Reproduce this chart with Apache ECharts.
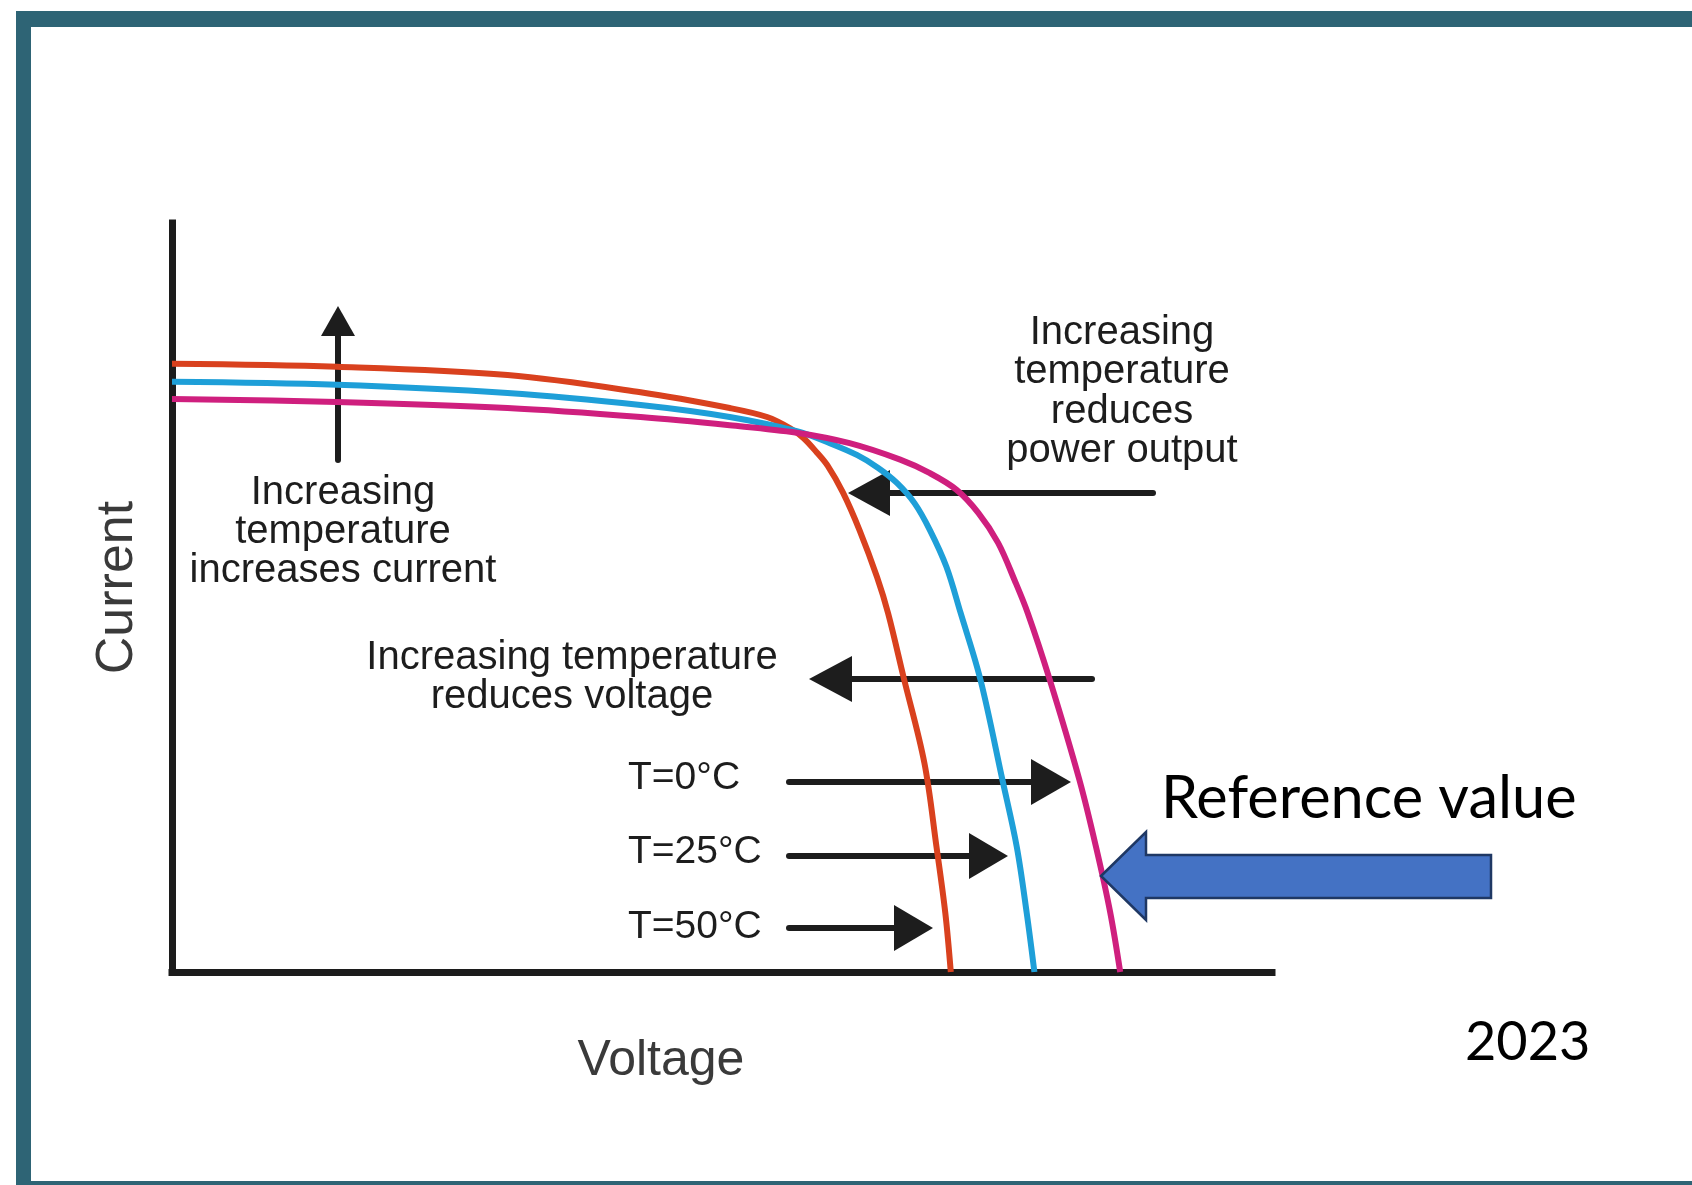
<!DOCTYPE html>
<html>
<head>
<meta charset="utf-8">
<script src="https://cdn.jsdelivr.net/npm/echarts@6/dist/echarts.min.js"></script>
<style>
  html, body { margin: 0; padding: 0; background: #ffffff; }
  #chart { width: 1692px; height: 1185px; }
</style>
</head>
<body>
<div id="chart"></div>
<script>
// ---- Data (relative units: voltage % and current % of axis range) ----
const seriesNames = ['T=50°C', 'T=25°C', 'T=0°C'];

const voltageT50 = [0, 15.0, 30.5, 42.6, 50.7, 54.1, 56.2, 57.4, 58.6, 59.6, 61.0, 62.5, 64.1, 65.1, 66.5, 68.4, 69.5, 70.3, 70.8];
const currentT50 = [81.2, 80.8, 79.7, 77.4, 75.3, 74.1, 72.6, 71.3, 69.4, 67.6, 64.0, 59.0, 52.7, 47.9, 39.4, 27.9, 16.7, 7.9, 0];

const voltageT25 = [0, 15.0, 30.5, 42.6, 50.7, 56.8, 59.8, 62.3, 64.2, 65.9, 67.5, 68.9, 70.4, 71.7, 73.5, 75.5, 76.8, 77.7, 78.4];
const currentT25 = [78.8, 78.4, 77.3, 75.7, 74.1, 72.2, 70.6, 69.0, 67.3, 65.3, 62.6, 59.0, 54.1, 47.9, 39.0, 25.6, 16.7, 7.9, 0];

const voltageT0 = [0, 15.0, 30.5, 42.6, 50.7, 56.8, 61.6, 66.2, 68.9, 71.3, 73.3, 75.1, 76.6, 77.8, 79.8, 82.5, 84.0, 85.3, 86.2];
const currentT0 = [76.5, 76.1, 75.3, 74.1, 73.0, 72.0, 70.6, 68.4, 66.6, 64.4, 61.3, 57.3, 52.3, 47.9, 39.0, 25.6, 16.7, 7.9, 0];

const axisTitles = ['Voltage', 'Current'];

// ---- Build ----
function zip(xs, ys) { return xs.map((x, i) => [x, ys[i]]); }
const curveColors = ['#d9411e', '#1e9fd8', '#cf1f7e'];
const curves = [zip(voltageT50, currentT50), zip(voltageT25, currentT25), zip(voltageT0, currentT0)];

const INK = '#1d1d1d';
const FONT = '"Liberation Sans", Arial, sans-serif';

function arrow(x1, y1, x2, y2, headLen, halfW) {
  const dx = x2 - x1, dy = y2 - y1;
  const len = Math.sqrt(dx * dx + dy * dy);
  const ux = dx / len, uy = dy / len;
  const bx = x2 - ux * headLen, by = y2 - uy * headLen;
  const px = -uy, py = ux;
  return {
    type: 'group',
    children: [
      { type: 'line', shape: { x1: x1, y1: y1, x2: bx + ux * 4, y2: by + uy * 4 },
        style: { stroke: INK, lineWidth: 6, lineCap: 'round' } },
      { type: 'polygon', shape: { points: [[x2, y2], [bx + px * halfW, by + py * halfW], [bx - px * halfW, by - py * halfW]] },
        style: { fill: INK } }
    ]
  };
}

function label(x, y, text, size, align, lineHeight) {
  return {
    type: 'text', x: x, y: y, z: 20,
    style: {
      text: text, fill: INK, fontSize: size, fontFamily: FONT,
      align: align || 'center', verticalAlign: 'middle', lineHeight: lineHeight || size
    }
  };
}

const FRAME = '#2e6475';

const chart = echarts.init(document.getElementById('chart'), null, { renderer: 'canvas' });
const option = {
  animation: false,
  backgroundColor: '#ffffff',
  grid: { left: 172, right: 420, top: 223, bottom: 213 },
  xAxis: {
    type: 'value', min: 0, max: 100,
    name: axisTitles[0], nameLocation: 'middle', nameGap: 64,
    nameTextStyle: { fontSize: 50, color: '#3a3a3a', fontFamily: FONT, padding: [0, 122, 0, 0] },
    axisLine: { show: true, onZero: false, lineStyle: { color: '#1c1c1c', width: 7, cap: 'square' } },
    axisTick: { show: false }, axisLabel: { show: false }, splitLine: { show: false }
  },
  yAxis: {
    type: 'value', min: 0, max: 100,
    name: axisTitles[1], nameLocation: 'middle', nameGap: 28,
    nameTextStyle: { fontSize: 52, color: '#3a3a3a', fontFamily: FONT, padding: [0, 0, 0, 20] },
    axisLine: { show: true, onZero: false, lineStyle: { color: '#1c1c1c', width: 7, cap: 'square' } },
    axisTick: { show: false }, axisLabel: { show: false }, splitLine: { show: false }
  },
  series: curves.map((d, i) => ({
    type: 'line', name: seriesNames[i], data: d,
    smooth: 0.35, showSymbol: false, clip: false,
    lineStyle: { width: 6, color: curveColors[i] }, z: 3
  })),
  graphic: [
    // frame
    { type: 'rect', shape: { x: 16, y: 11, width: 1692 - 16, height: 16 }, style: { fill: FRAME }, z: 30 },
    { type: 'rect', shape: { x: 16, y: 11, width: 15, height: 1185 - 11 }, style: { fill: FRAME }, z: 30 },
    { type: 'rect', shape: { x: 16, y: 1181, width: 1692 - 16, height: 4 }, style: { fill: FRAME }, z: 30 },
    // black arrows
    arrow(338, 460, 338, 306, 30, 17),
    arrow(1153, 493, 848, 493, 42, 23),
    arrow(1092, 679, 809, 679, 43, 23),
    arrow(789, 782, 1071, 782, 40, 23),
    arrow(789, 856, 1008, 856, 39, 23),
    arrow(789, 928, 933, 928, 39, 23),
    // labels
    label(343, 532, 'Increasing\ntemperature\nincreases current', 40, 'center', 39),
    label(1122, 392, 'Increasing\ntemperature\nreduces\npower output', 40, 'center', 39.3),
    label(572, 677, 'Increasing temperature\nreduces voltage', 40, 'center', 39),
    label(628, 778, 'T=0°C', 39, 'left'),
    label(628, 852, 'T=25°C', 39, 'left'),
    label(628, 927, 'T=50°C', 39, 'left'),
    // blue reference arrow
    { type: 'polygon', z: 25,
      shape: { points: [[1101, 876], [1146, 832], [1146, 855], [1491, 855], [1491, 898], [1146, 898], [1146, 920]] },
      style: { fill: '#4472c4', stroke: '#1f3864', lineWidth: 2.5, lineJoin: 'miter' } },
    { type: 'text', x: 1161, y: 799, z: 25,
      style: { text: 'Reference value', fill: '#000000', fontSize: 59.5, fontFamily: 'Lato, "Open Sans", sans-serif', align: 'left', verticalAlign: 'middle' } },
    { type: 'text', x: 1465, y: 1043, z: 25,
      style: { text: '2023', fill: '#000000', fontSize: 54, fontFamily: 'Lato, "Open Sans", sans-serif', align: 'left', verticalAlign: 'middle' } }
  ]
};
chart.setOption(option);
</script>
</body>
</html>
